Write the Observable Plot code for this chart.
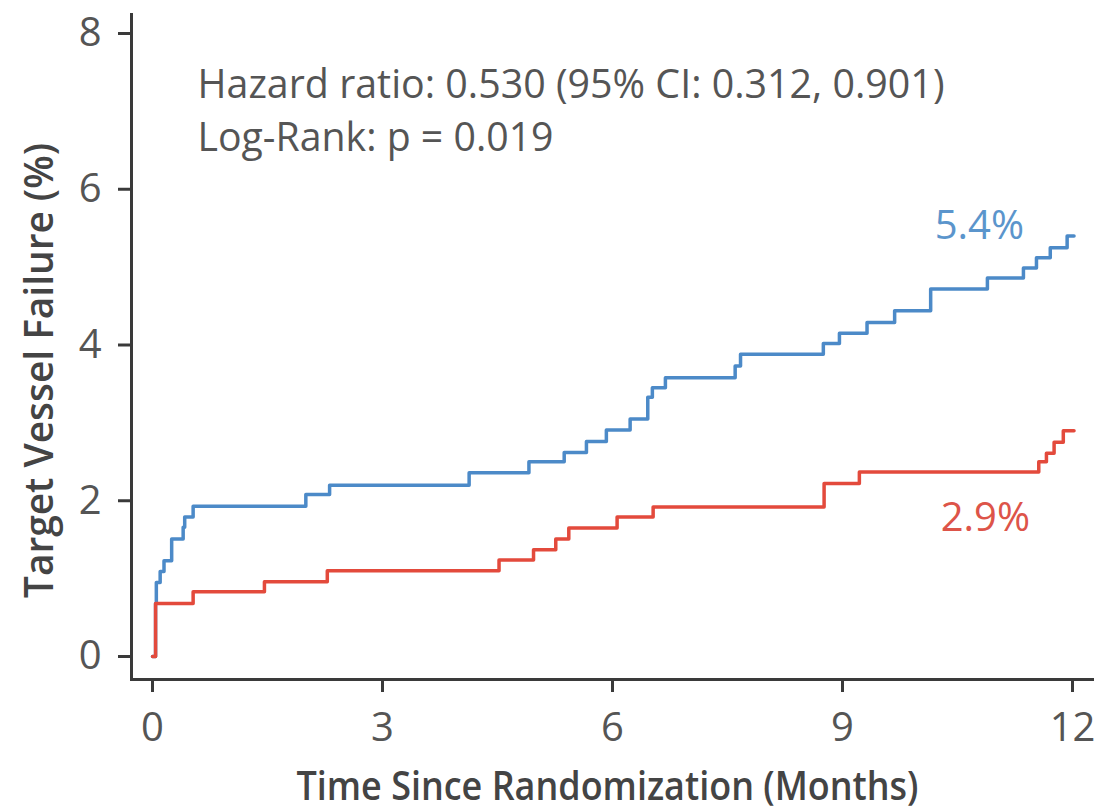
<!DOCTYPE html>
<html>
<head>
<meta charset="utf-8">
<script src="https://cdn.jsdelivr.net/npm/d3@7"></script>
<script src="https://cdn.jsdelivr.net/npm/@observablehq/plot@0.6"></script>
<style>
  body { margin: 0; background: #fff; }
  svg { display: block; }
</style>
</head>
<body>
<div id="chart"></div>
<script>
// ---- Data ----
const blueTime = [0, 0.04, 0.05, 0.10, 0.15, 0.25, 0.40, 0.42, 0.53, 2.00, 2.31, 4.13, 4.91, 5.37, 5.66, 5.92, 6.23, 6.46, 6.52, 6.69, 7.60, 7.67, 8.75, 8.96, 9.32, 9.68, 10.15, 10.89, 11.36, 11.53, 11.71, 11.93, 12.02];
const blueRisk = [0, 0.68, 0.95, 1.09, 1.23, 1.51, 1.66, 1.79, 1.93, 2.08, 2.20, 2.36, 2.50, 2.62, 2.76, 2.91, 3.05, 3.33, 3.45, 3.58, 3.73, 3.88, 4.02, 4.15, 4.29, 4.44, 4.72, 4.86, 4.99, 5.12, 5.25, 5.40, 5.40];

const redTime = [0, 0.04, 0.53, 1.46, 2.28, 4.52, 4.97, 5.26, 5.43, 6.06, 6.53, 8.76, 9.22, 11.56, 11.66, 11.76, 11.88, 12.02];
const redRisk = [0, 0.68, 0.83, 0.96, 1.10, 1.24, 1.37, 1.51, 1.65, 1.79, 1.92, 2.22, 2.37, 2.50, 2.61, 2.75, 2.90, 2.90];

const endLabels = ["5.4%", "2.9%"];
const xTicks = [0, 3, 6, 9, 12];
const yTicks = [0, 2, 4, 6, 8];
const xTitle = "Time Since Randomization (Months)";
const yTitle = "Target Vessel Failure (%)";
const annotationLines = ["Hazard ratio: 0.530 (95% CI: 0.312, 0.901)", "Log-Rank: p = 0.019"];

const blueColor = "#4c8ac8";
const redColor = "#e34a3c";
const axisColor = "#3a3a3a";
const textColor = "#555555";

const blue = blueTime.map((t, i) => ({t, v: blueRisk[i]}));
const red = redTime.map((t, i) => ({t, v: redRisk[i]}));

const chart = Plot.plot({
  width: 1094,
  height: 812,
  marginLeft: 131,
  marginRight: 0,
  marginTop: 14,
  marginBottom: 133,
  style: {fontFamily: "'Open Sans', sans-serif", background: "#fff", color: textColor},
  x: {domain: [0, 12], insetLeft: 21, insetRight: 22},
  y: {domain: [0, 8], insetTop: 19, insetBottom: 23},
  marks: [
    Plot.frame({anchor: "left", stroke: axisColor, strokeWidth: 3}),
    Plot.frame({anchor: "bottom", stroke: axisColor, strokeWidth: 3}),
    Plot.axisX({ticks: xTicks, tickSize: 13, tickPadding: 20, fontSize: 40, label: null,
      stroke: axisColor, strokeWidth: 3, fill: textColor, tickFormat: d => String(d)}),
    Plot.axisY({ticks: yTicks, tickSize: 13, tickPadding: 17, fontSize: 40, label: null,
      stroke: axisColor, strokeWidth: 3, fill: textColor, tickFormat: d => String(d)}),
    Plot.line(blue, {x: "t", y: "v", curve: "step-after", stroke: blueColor, strokeWidth: 3.5}),
    Plot.line(red, {x: "t", y: "v", curve: "step-after", stroke: redColor, strokeWidth: 3.5}),
    Plot.text([blue[blue.length - 1]], {x: "t", y: "v", text: () => endLabels[0], textAnchor: "end",
      lineAnchor: "middle", dx: -50, dy: -10, fontSize: 40, fill: "#5b95cc"}),
    Plot.text([red[red.length - 1]], {x: "t", y: "v", text: () => endLabels[1], textAnchor: "end",
      lineAnchor: "middle", dx: -44, dy: 88, fontSize: 40, fill: "#dd5449"}),
    Plot.text([annotationLines[0]], {frameAnchor: "top-left", textAnchor: "start", lineAnchor: "top",
      dx: 66, dy: 54, fontSize: 41, fill: textColor}),
    Plot.text([annotationLines[1]], {frameAnchor: "top-left", textAnchor: "start", lineAnchor: "top",
      dx: 66, dy: 107, fontSize: 41, fill: textColor}),
    Plot.text([xTitle], {frameAnchor: "bottom-left", textAnchor: "start", lineAnchor: "middle", dx: 165, dy: 108,
      fontSize: 40, fontWeight: 600, fill: "#444"}),
    Plot.text([yTitle], {frameAnchor: "left", textAnchor: "start", lineAnchor: "middle", rotate: -90, dx: -91, dy: 251,
      fontSize: 40, fontWeight: 600, fill: "#444"})
  ]
});

document.getElementById("chart").appendChild(chart);

// condensed look of the original typeface
const targetWidths = new Map([
  [annotationLines[0], 747],
  [annotationLines[1], 356],
  [xTitle, 622],
  [yTitle, 455]
]);
chart.querySelectorAll("text").forEach(el => {
  const w = targetWidths.get(el.textContent);
  if (w) {
    el.setAttribute("textLength", w);
    el.setAttribute("lengthAdjust", "spacingAndGlyphs");
  }
});
</script>
</body>
</html>
